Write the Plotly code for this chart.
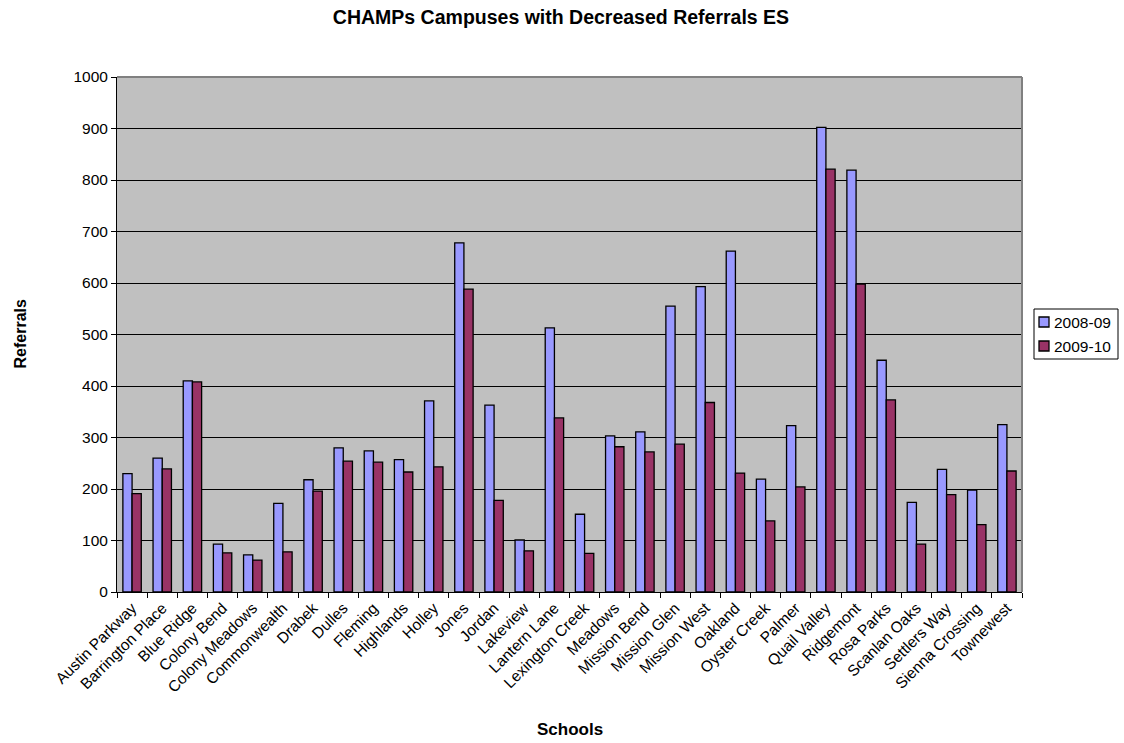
import plotly.graph_objects as go

schools = [
    "Austin Parkway", "Barrington Place", "Blue Ridge", "Colony Bend", "Colony Meadows",
    "Commonwealth", "Drabek", "Dulles", "Fleming", "Highlands", "Holley", "Jones",
    "Jordan", "Lakeview", "Lantern Lane", "Lexington Creek", "Meadows", "Mission Bend",
    "Mission Glen", "Mission West", "Oakland", "Oyster Creek", "Palmer", "Quail Valley",
    "Ridgemont", "Rosa Parks", "Scanlan Oaks", "Settlers Way", "Sienna Crossing", "Townewest",
]
referrals_2008_09 = [230, 260, 410, 93, 72, 172, 218, 280, 274, 257, 371, 678, 363, 101, 513,
                     151, 303, 311, 555, 593, 662, 219, 323, 902, 819, 450, 174, 238, 198, 325]
referrals_2009_10 = [191, 239, 408, 76, 62, 78, 196, 254, 252, 233, 243, 588, 178, 80, 338,
                     75, 282, 272, 287, 368, 231, 138, 204, 821, 598, 373, 93, 189, 131, 235]
series_names = ["2008-09", "2009-10"]
series_colors = ["#9999FF", "#993366"]

font = "Liberation Sans, Arial, sans-serif"

W, H = 1124, 743
L, R, T, B = 117, 1022, 77, 592   # plot-area edges in pixels


def px_x(x):
    return (x - L) / (R - L)


def px_y(y):
    return (B - y) / (B - T)


fig = go.Figure()
for name, vals, col in zip(series_names, [referrals_2008_09, referrals_2009_10], series_colors):
    fig.add_trace(go.Bar(
        x=schools, y=vals, name=name,
        marker=dict(color=col, line=dict(color="black", width=1.3)),
    ))

fig.update_layout(
    width=W, height=H,
    margin=dict(l=L, r=W - R, t=T, b=H - B, autoexpand=False),
    paper_bgcolor="white",
    plot_bgcolor="#C0C0C0",
    barmode="group",
    bargap=0.39,
    bargroupgap=0,
    showlegend=False,
    font=dict(family=font, size=15, color="black"),
    title=dict(
        text="<b>CHAMPs Campuses with Decreased Referrals ES</b>",
        x=px_x(561), xref="paper", xanchor="center",
        y=1 - 17 / H, yref="container", yanchor="middle",
        font=dict(family=font, size=19.5, color="black"),
    ),
)

fig.update_yaxes(
    range=[0, 1000], dtick=100, tick0=0,
    showgrid=True, gridcolor="black", gridwidth=1,
    showline=True, linecolor="black", linewidth=1,
    ticks="outside", ticklen=5, tickcolor="black",
    zeroline=False, automargin=False,
    tickfont=dict(family=font, size=15.5),
)
fig.update_xaxes(
    showline=True, linecolor="black", linewidth=1,
    ticks="outside", ticklen=5, tickcolor="black", tickson="boundaries",
    tickangle=-45, automargin=False,
    tickfont=dict(family=font, size=15.5),
)

# Plot-area frame (gray on top and right, axes drawn in black)
fig.add_shape(type="line", xref="paper", yref="paper", x0=0, y0=1, x1=1, y1=1,
              line=dict(color="#808080", width=2))
fig.add_shape(type="line", xref="paper", yref="paper", x0=1, y0=0, x1=1, y1=1,
              line=dict(color="#808080", width=2))

# Axis titles
fig.add_annotation(text="<b>Schools</b>", xref="paper", yref="paper",
                   x=0.5, y=px_y(729), xanchor="center", yanchor="middle",
                   showarrow=False, font=dict(family=font, size=17))
fig.add_annotation(text="<b>Referrals</b>", xref="paper", yref="paper",
                   x=px_x(20), y=0.5, xanchor="center", yanchor="middle", textangle=-90,
                   showarrow=False, font=dict(family=font, size=16))

# Legend box with colour keys
fig.add_shape(type="rect", xref="paper", yref="paper",
              x0=px_x(1034), x1=px_x(1118), y0=px_y(359), y1=px_y(309),
              line=dict(color="black", width=1), fillcolor="white")
for i, (name, col) in enumerate(zip(series_names, series_colors)):
    yc = 322 + i * 24
    fig.add_shape(type="rect", xref="paper", yref="paper",
                  x0=px_x(1039), x1=px_x(1049), y0=px_y(yc + 5), y1=px_y(yc - 5),
                  line=dict(color="black", width=1.3), fillcolor=col)
    fig.add_annotation(text=name, xref="paper", yref="paper",
                       x=px_x(1052), y=px_y(yc), xanchor="left", yanchor="middle",
                       showarrow=False, font=dict(family=font, size=15.5))

fig.write_html("out.html")
